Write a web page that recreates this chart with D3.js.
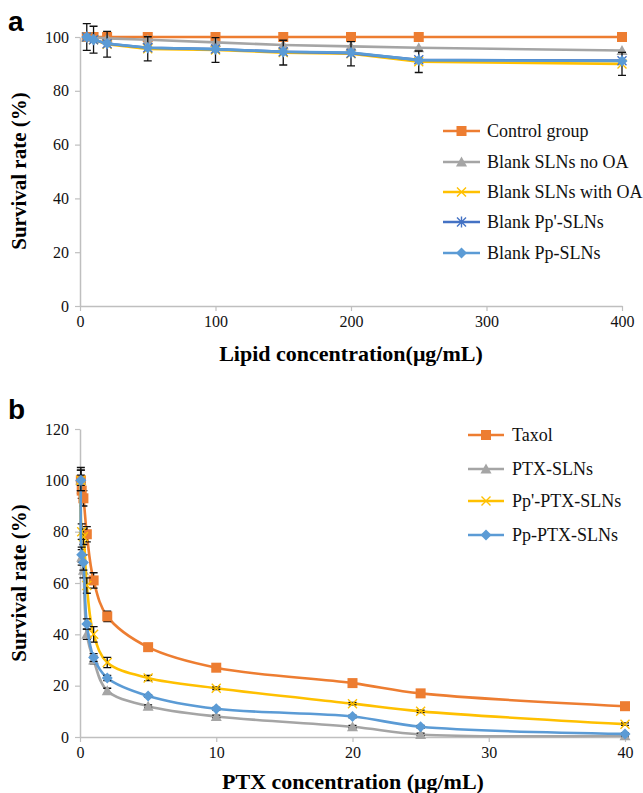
<!DOCTYPE html>
<html><head><meta charset="utf-8">
<script src="https://cdn.jsdelivr.net/npm/d3@7"></script>
<style>body{margin:0;background:#fff}svg{display:block}
.serif{font-family:"Liberation Serif","Tinos","Times New Roman","DejaVu Serif",serif}</style>
</head><body><svg id="c" width="643" height="793"></svg>
<script>
// ---------- Panel a data ----------
const aX = [5, 10, 20, 50, 100, 150, 200, 250, 400];
const aControl = [100, 100, 100, 100, 100, 100, 100, 100, 100];
const aNoOA = [100, 99.8, 99.5, 99, 98, 97, 96.5, 96, 95];
const aWithOA = [100, 99, 97.3, 95.6, 95.2, 94.2, 93.8, 90.8, 90];
const aPpPrime = [100, 99, 97.5, 96, 95.5, 94.5, 94, 91.5, 91.2];
const aPp = [100, 99, 97.6, 96, 95.5, 94.5, 94.2, 91.4, 91.1];
const aErr = [5, 5, 4.8, 4.5, 4.6, 4.6, 4.5, 4, 4.3];
const aNames = ["Control group", "Blank SLNs no OA", "Blank SLNs with OA", "Blank Pp'-SLNs", "Blank Pp-SLNs"];
const aYTicks = [0, 20, 40, 60, 80, 100];
const aXTicks = [0, 100, 200, 300, 400];

// ---------- Panel b data ----------
const bX = [0.0625, 0.125, 0.25, 0.5, 1, 2, 5, 10, 20, 25, 40];
const bTaxol = [100, 96, 93, 79, 61, 47, 35, 27, 21, 17, 12];
const bPTX = [100, 70, 65, 40, 30, 18, 12, 8, 4, 1, 0.5];
const bPpPrime = [100, 80, 78, 59, 40, 29, 23, 19, 13, 10, 5];
const bPp = [100, 71, 68, 44, 31, 23, 16, 11, 8, 4, 1.2];
const bErrTaxol = [5, 3, 3, 3, 3, 2, 0.5, 0.5, 0.5, 0.5, 0.5];
const bErrPTX = [2, 3, 3, 2, 1.5, 1, 0.5, 0.5, 0.5, 0.5, 0.5];
const bErrPpPrime = [4, 3, 3, 3, 3, 2, 1, 0.5, 0.5, 0.5, 0.5];
const bErrPp = [4, 3, 3, 2, 1.5, 1, 0.5, 0.5, 0.5, 0.5, 0.5];
const bNames = ["Taxol", "PTX-SLNs", "Pp'-PTX-SLNs", "Pp-PTX-SLNs"];
const bYTicks = [0, 20, 40, 60, 80, 100, 120];
const bXTicks = [0, 10, 20, 30, 40];

const C = {orange: "#ED7D31", gray: "#A5A5A5", yellow: "#FFC000", dblue: "#4472C4", lblue: "#5B9BD5"};
const AXC = "#BFBFBF";

const svg = d3.select("#c");

function marker(g, type, x, y, color) {
  const s = 5;
  if (type === "square") {
    g.append("rect").attr("x", x - s).attr("y", y - s).attr("width", 2*s).attr("height", 2*s).attr("fill", color);
  } else if (type === "triangle") {
    g.append("path").attr("d", `M${x},${y-5.5}L${x+5.5},${y+4.5}L${x-5.5},${y+4.5}Z`).attr("fill", color);
  } else if (type === "x") {
    g.append("path").attr("d", `M${x-4.5},${y-4.5}L${x+4.5},${y+4.5}M${x-4.5},${y+4.5}L${x+4.5},${y-4.5}`)
      .attr("stroke", color).attr("stroke-width", 1.4).attr("fill", "none");
  } else if (type === "star") {
    g.append("path").attr("d", `M${x-4.5},${y-4.5}L${x+4.5},${y+4.5}M${x-4.5},${y+4.5}L${x+4.5},${y-4.5}M${x},${y-5.5}L${x},${y+5.5}`)
      .attr("stroke", color).attr("stroke-width", 1.4).attr("fill", "none");
  } else if (type === "diamond") {
    g.append("path").attr("d", `M${x},${y-5.5}L${x+5.5},${y}L${x},${y+5.5}L${x-5.5},${y}Z`).attr("fill", color);
  }
}

function drawAxes(g, x, y, xTicks, yTicks) {
  const [x0, x1] = x.range();
  const [y0, y1] = y.range();
  const ya = g.append("g").attr("transform", `translate(${x0},0)`)
    .call(d3.axisLeft(y).tickValues(yTicks).tickSize(5).tickSizeOuter(0).tickPadding(6));
  const xa = g.append("g").attr("transform", `translate(0,${y0})`)
    .call(d3.axisBottom(x).tickValues(xTicks).tickSize(5).tickSizeOuter(0).tickPadding(5));
  [ya, xa].forEach(a => {
    a.attr("font-family", null).attr("font-size", null);
    a.select(".domain").attr("stroke", AXC).attr("stroke-width", 1.5);
    a.selectAll(".tick line").attr("stroke", AXC).attr("stroke-width", 1.2);
    a.selectAll(".tick text").attr("fill", "#111").attr("class", "serif").style("font-size", "16px");
  });
}

function drawSeries(g, x, y, xs, ys, color, mk, curve, errs) {
  const pts = xs.map((d, i) => [x(d), y(ys[i])]);
  const line = d3.line().curve(curve);
  g.append("path").attr("d", line(pts)).attr("fill", "none").attr("stroke", color).attr("stroke-width", 2.6);
  if (errs) {
    xs.forEach((d, i) => {
      const px = x(d), t = y(ys[i] + errs[i]), b = y(ys[i] - errs[i]);
      g.append("path").attr("d", `M${px},${t}L${px},${b}M${px-4},${t}L${px+4},${t}M${px-4},${b}L${px+4},${b}`)
        .attr("stroke", "#111").attr("stroke-width", 1.3).attr("fill", "none");
    });
  }
  pts.forEach(p => marker(g, mk, p[0], p[1], color));
}

function legend(g, x0, x1, tx, rows, names, colors, mks) {
  names.forEach((n, i) => {
    const yy = rows[i];
    g.append("line").attr("x1", x0).attr("x2", x1).attr("y1", yy).attr("y2", yy).attr("stroke", colors[i]).attr("stroke-width", 2.6);
    marker(g, mks[i], (x0 + x1) / 2, yy, colors[i]);
    g.append("text").attr("class", "serif").attr("x", tx).attr("y", yy).attr("dy", "0.35em").text(n)
      .style("font-size", "18px").attr("fill", "#111");
  });
}

// ---------- Panel a ----------
{
  const g = svg.append("g");
  const x = d3.scaleLinear().domain([0, 400]).range([80, 622]);
  const y = d3.scaleLinear().domain([0, 100]).range([306, 37]);
  drawAxes(g, x, y, aXTicks, aYTicks);
  const lin = d3.curveLinear;
  drawSeries(g, x, y, aX, aControl, C.orange, "square", lin, null);
  drawSeries(g, x, y, aX, aNoOA, C.gray, "triangle", lin, null);
  drawSeries(g, x, y, aX, aWithOA, C.yellow, "x", lin, aErr);
  drawSeries(g, x, y, aX, aPpPrime, C.dblue, "star", lin, null);
  drawSeries(g, x, y, aX, aPp, C.lblue, "diamond", lin, null);
  legend(g, 443, 480, 487, [131, 162, 192, 222, 253], aNames,
    [C.orange, C.gray, C.yellow, C.dblue, C.lblue], ["square", "triangle", "x", "star", "diamond"]);
  g.append("text").attr("class", "serif").attr("x", 351).attr("y", 361).attr("text-anchor", "middle").text("Lipid concentration(μg/mL)")
    .style("font-size", "22px").style("font-weight", "bold");
  g.append("text").attr("class", "serif").attr("transform", "translate(26,171) rotate(-90)").attr("text-anchor", "middle").text("Survival rate (%)")
    .style("font-size", "21px").style("font-weight", "bold");
  g.append("text").attr("x", 8).attr("y", 31).text("a")
    .style("font-family", "'Liberation Sans',Arial,sans-serif").style("font-size", "28px").style("font-weight", "bold");
}

// ---------- Panel b ----------
{
  const g = svg.append("g");
  const x = d3.scaleLinear().domain([0, 40]).range([80, 625]);
  const y = d3.scaleLinear().domain([0, 120]).range([737, 429]);
  drawAxes(g, x, y, bXTicks, bYTicks);
  const cv = d3.curveCatmullRom.alpha(0.5);
  drawSeries(g, x, y, bX, bTaxol, C.orange, "square", cv, bErrTaxol);
  drawSeries(g, x, y, bX, bPTX, C.gray, "triangle", cv, bErrPTX);
  drawSeries(g, x, y, bX, bPpPrime, C.yellow, "x", cv, bErrPpPrime);
  drawSeries(g, x, y, bX, bPp, C.lblue, "diamond", cv, bErrPp);
  legend(g, 468, 504, 512, [435, 469, 501, 535], bNames,
    [C.orange, C.gray, C.yellow, C.lblue], ["square", "triangle", "x", "diamond"]);
  g.append("text").attr("class", "serif").attr("x", 353).attr("y", 789).attr("text-anchor", "middle").text("PTX concentration (μg/mL)")
    .style("font-size", "22px").style("font-weight", "bold");
  g.append("text").attr("class", "serif").attr("transform", "translate(26,583) rotate(-90)").attr("text-anchor", "middle").text("Survival rate (%)")
    .style("font-size", "21px").style("font-weight", "bold");
  g.append("text").attr("x", 8).attr("y", 419).text("b")
    .style("font-family", "'Liberation Sans',Arial,sans-serif").style("font-size", "28px").style("font-weight", "bold");
}
</script></body></html>
